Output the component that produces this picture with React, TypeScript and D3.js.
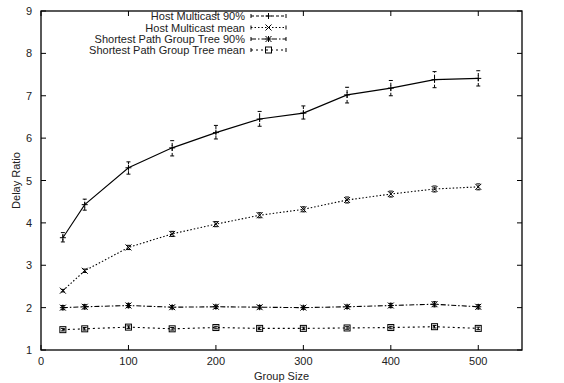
import React from "react";
import * as d3 from "d3";

const groupSizes = [25, 50, 100, 150, 200, 250, 300, 350, 400, 450, 500];
const hm90 = [3.65, 4.43, 5.3, 5.77, 6.13, 6.45, 6.59, 7.02, 7.18, 7.38, 7.41];
const hm90Lo = [3.55, 4.3, 5.15, 5.58, 5.98, 6.28, 6.45, 6.83, 7.0, 7.19, 7.23];
const hm90Hi = [3.77, 4.56, 5.44, 5.94, 6.3, 6.63, 6.76, 7.2, 7.36, 7.57, 7.59];
const hmMean = [2.4, 2.87, 3.42, 3.74, 3.97, 4.18, 4.32, 4.54, 4.68, 4.8, 4.85];
const hmMeanErr = [0.03, 0.04, 0.05, 0.06, 0.06, 0.06, 0.06, 0.07, 0.07, 0.07, 0.07];
const spgt90 = [2.0, 2.02, 2.05, 2.01, 2.02, 2.01, 2.0, 2.02, 2.05, 2.08, 2.02];
const spgt90Err = [0.05, 0.05, 0.05, 0.04, 0.04, 0.04, 0.04, 0.04, 0.05, 0.06, 0.05];
const spgtMean = [1.48, 1.5, 1.54, 1.5, 1.53, 1.51, 1.51, 1.52, 1.53, 1.55, 1.51];
const spgtMeanErr = [0.03, 0.03, 0.03, 0.03, 0.03, 0.03, 0.03, 0.03, 0.03, 0.03, 0.03];

const xTicks = [0, 100, 200, 300, 400, 500];
const yTicks = [1, 2, 3, 4, 5, 6, 7, 8, 9];
const seriesNames = [
  "Host Multicast 90%",
  "Host Multicast mean",
  "Shortest Path Group Tree 90%",
  "Shortest Path Group Tree mean",
];

const W = 564, H = 383;
const L = 41, R = 522, T = 11, B = 350;
const FONT = "'Liberation Sans', Arial, Helvetica, sans-serif";

type Marker = "plus" | "cross" | "star" | "box";

function MarkerShape({ x, y, type }: { x: number; y: number; type: Marker }) {
  const s = 3;
  if (type === "plus")
    return (
      <path d={`M${x - s},${y}H${x + s}M${x},${y - s}V${y + s}`} stroke="#000" strokeWidth={1} fill="none" />
    );
  if (type === "cross")
    return (
      <path d={`M${x - s},${y - s}L${x + s},${y + s}M${x - s},${y + s}L${x + s},${y - s}`} stroke="#000" strokeWidth={1} fill="none" />
    );
  if (type === "star")
    return (
      <path
        d={`M${x - s},${y}H${x + s}M${x},${y - s}V${y + s}M${x - s},${y - s}L${x + s},${y + s}M${x - s},${y + s}L${x + s},${y - s}`}
        stroke="#000" strokeWidth={1} fill="none"
      />
    );
  return <rect x={x - s} y={y - s} width={2 * s} height={2 * s} stroke="#000" strokeWidth={1} fill="none" />;
}

export default function App() {
  const x = d3.scaleLinear().domain([0, 550]).range([L, R]);
  const y = d3.scaleLinear().domain([1, 9]).range([B, T]);

  const series = [
    { name: seriesNames[0], v: hm90, lo: hm90Lo, hi: hm90Hi, dash: "none", m: "plus" as Marker, errDash: "3,2" },
    {
      name: seriesNames[1], v: hmMean,
      lo: hmMean.map((d, i) => d - hmMeanErr[i]), hi: hmMean.map((d, i) => d + hmMeanErr[i]),
      dash: "1.5,2", m: "cross" as Marker, errDash: "1,1",
    },
    {
      name: seriesNames[2], v: spgt90,
      lo: spgt90.map((d, i) => d - spgt90Err[i]), hi: spgt90.map((d, i) => d + spgt90Err[i]),
      dash: "5,2,1.5,2", m: "star" as Marker, errDash: "none",
    },
    {
      name: seriesNames[3], v: spgtMean,
      lo: spgtMean.map((d, i) => d - spgtMeanErr[i]), hi: spgtMean.map((d, i) => d + spgtMeanErr[i]),
      dash: "2,3", m: "box" as Marker, errDash: "none",
    },
  ];

  const line = d3.line<[number, number]>().x((d) => x(d[0])).y((d) => y(d[1]));
  const legendY = [16, 27.5, 39, 50];
  const legTextX = 245;
  const legX0 = 251, legX1 = 286;

  return (
    <svg width={W} height={H} style={{ position: "absolute", left: 0, top: 0, background: "#fff" }} fontFamily={FONT}>
      <rect x={0} y={0} width={W} height={H} fill="#fff" />
      {xTicks.map((t) => (
        <g key={"x" + t}>
          <line x1={x(t)} x2={x(t)} y1={B} y2={B - 5} stroke="#000" />
          <line x1={x(t)} x2={x(t)} y1={T} y2={T + 5} stroke="#000" />
          <text x={x(t)} y={B + 15} textAnchor="middle" fontSize={11} fill="#222">{t}</text>
        </g>
      ))}
      {yTicks.map((t) => (
        <g key={"y" + t}>
          <line x1={L} x2={L + 5} y1={y(t)} y2={y(t)} stroke="#000" />
          <line x1={R} x2={R - 5} y1={y(t)} y2={y(t)} stroke="#000" />
          <text x={L - 9} y={y(t) + 4} textAnchor="end" fontSize={11} fill="#222">{t}</text>
        </g>
      ))}
      <rect x={L} y={T} width={R - L} height={B - T} fill="none" stroke="#000" strokeWidth={1.3} />
      <text x={(L + R) / 2} y={B + 30} textAnchor="middle" fontSize={11} fill="#222">Group Size</text>
      <text transform={`translate(20,${(T + B) / 2}) rotate(-90)`} textAnchor="middle" fontSize={11} fill="#222">Delay Ratio</text>

      {series.map((s, si) => {
        const pts = groupSizes.map((g, i) => [g, s.v[i]] as [number, number]);
        return (
          <g key={si}>
            <path d={line(pts) || ""} fill="none" stroke="#000" strokeWidth={1.1} strokeDasharray={s.dash} />
            {groupSizes.map((g, i) => {
              const cx = x(g);
              return (
                <g key={i}>
                  <line x1={cx} x2={cx} y1={y(s.lo[i])} y2={y(s.hi[i])} stroke="#000" strokeWidth={1} strokeDasharray={s.errDash} />
                  <line x1={cx - 2} x2={cx + 2} y1={y(s.lo[i])} y2={y(s.lo[i])} stroke="#000" strokeWidth={1} />
                  <line x1={cx - 2} x2={cx + 2} y1={y(s.hi[i])} y2={y(s.hi[i])} stroke="#000" strokeWidth={1} />
                  <MarkerShape x={cx} y={y(s.v[i])} type={s.m} />
                </g>
              );
            })}
            <text x={legTextX} y={legendY[si] + 4} textAnchor="end" fontSize={11} fill="#222">{s.name}</text>
            <line x1={legX0} x2={legX1} y1={legendY[si]} y2={legendY[si]} stroke="#000" strokeWidth={1} strokeDasharray={si === 0 ? "3,2" : s.dash === "none" ? "none" : s.dash} />
            <line x1={legX0} x2={legX0} y1={legendY[si] - 2} y2={legendY[si] + 2} stroke="#000" />
            <line x1={legX1} x2={legX1} y1={legendY[si] - 2} y2={legendY[si] + 2} stroke="#000" />
            <MarkerShape x={(legX0 + legX1) / 2} y={legendY[si]} type={s.m} />
          </g>
        );
      })}
    </svg>
  );
}
